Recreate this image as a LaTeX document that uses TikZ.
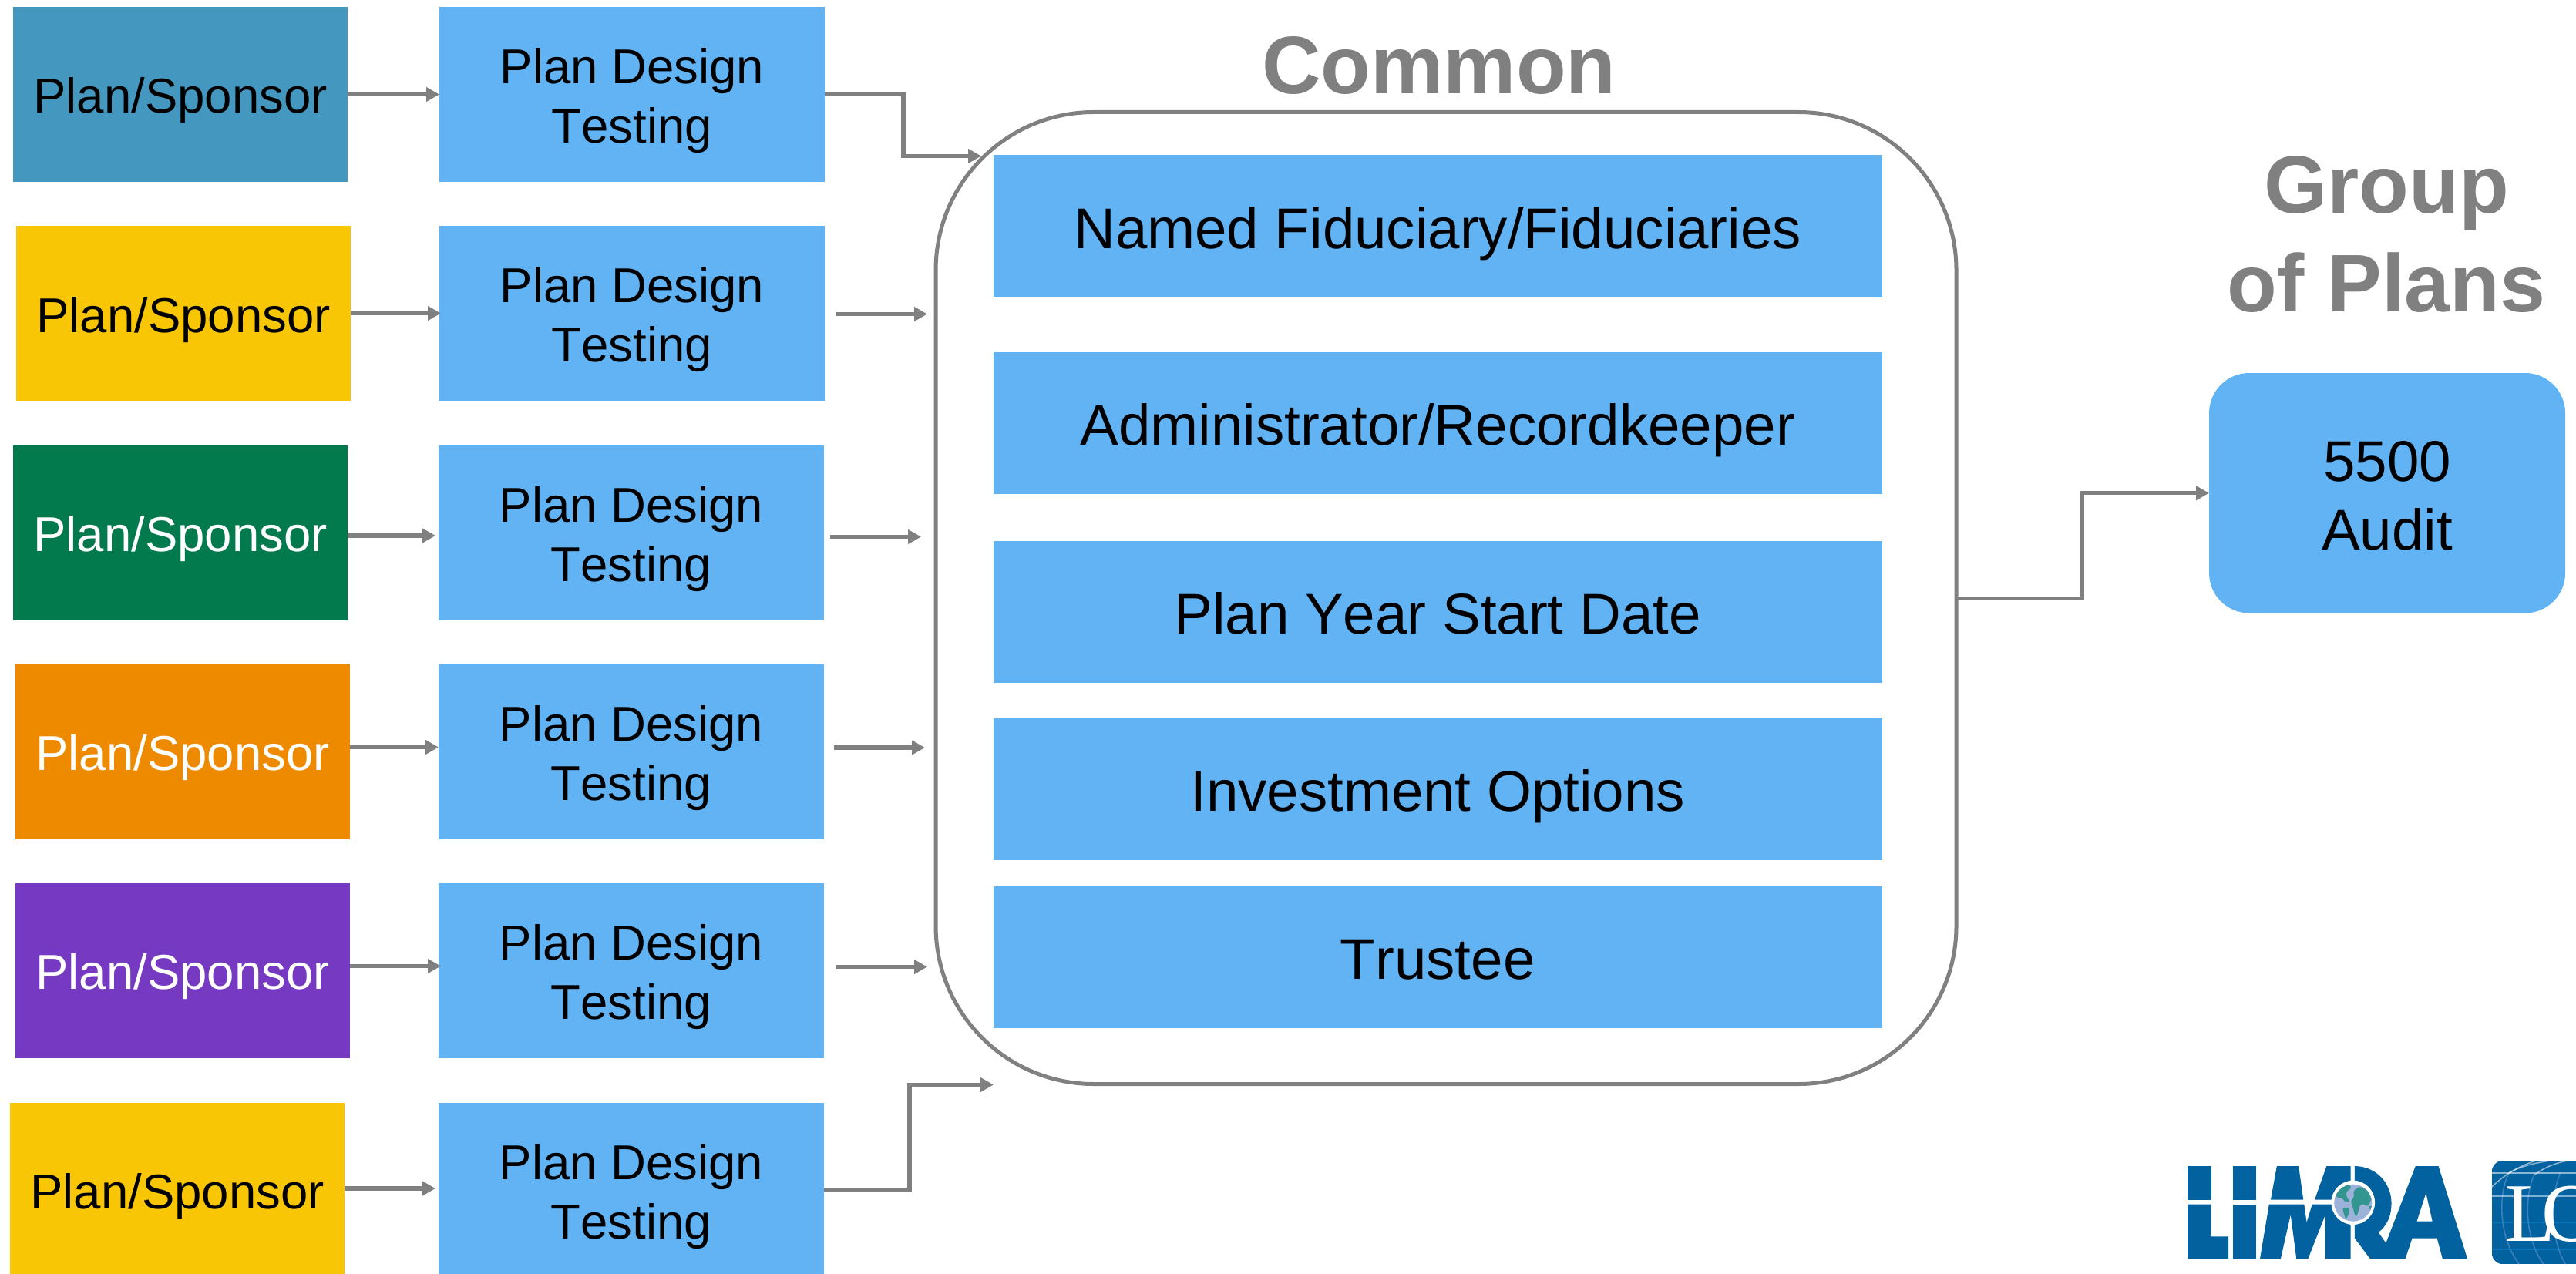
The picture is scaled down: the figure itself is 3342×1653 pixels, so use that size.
\documentclass[tikz,border=0pt]{standalone}
\usepackage{fontspec}
\setmainfont[Kerning=Off]{Liberation Sans}
\newfontfamily\logoserif{Liberation Serif}
\usetikzlibrary{arrows.meta}
\definecolor{planblue}{HTML}{61B3F4}
\definecolor{teal1}{HTML}{4497BF}
\definecolor{sunyellow}{HTML}{F8C605}
\definecolor{leafgreen}{HTML}{027A4E}
\definecolor{amber}{HTML}{EE8A00}
\definecolor{violet1}{HTML}{7639C2}
\definecolor{linegray}{HTML}{808080}
\definecolor{logoblue}{HTML}{02619F}
\definecolor{globeblue}{HTML}{9DB2D9}
\definecolor{globeland}{HTML}{33958F}
\newcommand{\fsmall}{\fontsize{63.5pt}{77pt}\selectfont}
\newcommand{\fmid}{\fontsize{74.5pt}{89.5pt}\selectfont}
\newcommand{\ftitle}{\fontsize{106pt}{128pt}\selectfont\bfseries}
\newcommand{\twolines}[3]{\raisebox{0pt}[#3pt][0pt]{\begin{tabular}[b]{@{}c@{}}#1\\#2\end{tabular}}}
\tikzset{
  x=1pt,y=-1pt,
  box/.style={rectangle,inner sep=0pt,outer sep=0pt,draw=none,align=center},
  sponsor/.style={box,minimum width=434pt,minimum height=227pt,font=\fsmall,text height=49pt,text depth=0pt},
  plantest/.style={box,fill=planblue,minimum width=500pt,minimum height=227pt,font=\fsmall},
  common/.style={box,fill=planblue,minimum width=1153pt,minimum height=184pt,font=\fmid,text height=58pt,text depth=0pt},
  title/.style={inner sep=0pt,outer sep=0pt,text=linegray,font=\ftitle,anchor=base},
  conn/.style={draw=linegray,line width=5.5pt,-{Triangle[length=17pt,width=18pt]}},
  connthin/.style={draw=linegray,line width=5pt,-{Triangle[length=17pt,width=18pt]}},
}
\begin{document}
\begin{tikzpicture}
\useasboundingbox (0,0) rectangle (3342,1653);
% sponsors
\node[sponsor,fill=teal1,text=black] (s1) at (234,122.5) {Plan/Sponsor};
\node[sponsor,fill=sunyellow,text=black] (s2) at (238,406.5) {Plan/Sponsor};
\node[sponsor,fill=leafgreen,text=white] (s3) at (234,691) {Plan/Sponsor};
\node[sponsor,fill=amber,text=white] (s4) at (237,975) {Plan/Sponsor};
\node[sponsor,fill=violet1,text=white] (s5) at (237,1259) {Plan/Sponsor};
\node[sponsor,fill=sunyellow,text=black] (s6) at (230,1544) {Plan/Sponsor};
% plan design testing
\node[plantest] (p1) at (820,122.5) {\twolines{Plan Design}{Testing}{126}};
\node[plantest] (p2) at (820,406.5) {\twolines{Plan Design}{Testing}{126}};
\node[plantest] (p3) at (819,691) {\twolines{Plan Design}{Testing}{126}};
\node[plantest] (p4) at (819,975) {\twolines{Plan Design}{Testing}{126}};
\node[plantest] (p5) at (819,1259) {\twolines{Plan Design}{Testing}{126}};
\node[plantest] (p6) at (819,1544) {\twolines{Plan Design}{Testing}{126}};
% common container
\node[box,draw=linegray,line width=5pt,rounded corners=205pt,minimum width=1324pt,minimum height=1261pt] (big) at (1876,776) {};
\node[common] (c1) at (1865.2,293.5) {Named Fiduciary/Fiduciaries};
\node[common] (c2) at (1865.2,548.5) {Administrator/Recordkeeper};
\node[common] (c3) at (1865.2,793.5) {Plan Year Start Date};
\node[common] (c4) at (1865.2,1023.5) {Investment Options};
\node[common] (c5) at (1865.2,1241.5) {Trustee};
% titles
\node[title] (tcommon) at (1867,121.5) {Common};
\node[title] (tgroup) at (3096,404) {\begin{tabular}[b]{@{}c@{}}Group\\of Plans\end{tabular}};
% audit
\node[box,fill=planblue,rounded corners=52pt,minimum width=462pt,minimum height=311.5pt,font=\fmid] (audit) at (3097,639.75) {\twolines{5500}{Audit}{148}};
% named ends of connectors
\coordinate (e1) at (570,122.5);
\coordinate (e2) at (572,406.5);
\coordinate (e3) at (565,695);
\coordinate (e4) at (569,969.5);
\coordinate (e5) at (572,1253.5);
\coordinate (e6) at (565,1542);
\coordinate (m1) at (1172,202.5);
\coordinate (t1) at (1273,202.5);
\coordinate (a2) at (1084,407.5);
\coordinate (b2) at (1203,407.5);
\coordinate (a3) at (1077,696.5);
\coordinate (b3) at (1195,696.5);
\coordinate (a4) at (1082,970);
\coordinate (b4) at (1200,970);
\coordinate (a5) at (1084,1254.5);
\coordinate (b5) at (1203,1254.5);
\coordinate (m6) at (1180,1407.5);
\coordinate (t6) at (1289,1407.5);
\coordinate (m7) at (2701,639.75);
% connectors
\draw[conn] (s1.east) -- (e1);
\draw[conn] (s2.east) -- (e2);
\draw[conn] (s3.east |- e3) -- (e3);
\draw[conn] (s4.east |- e4) -- (e4);
\draw[conn] (s5.east |- e5) -- (e5);
\draw[conn] (s6.east |- e6) -- (e6);
\draw[conn] (p1.east) -| (m1) -- (t1);
\draw[conn] (a2) -- (b2);
\draw[conn] (a3) -- (b3);
\draw[conn] (a4) -- (b4);
\draw[conn] (a5) -- (b5);
\draw[conn] (p6.east) -| (m6) -- (t6);
\draw[connthin] (big.east) -| (m7) -- (audit.west);
% LIMRA logo (coordinates from a 0.3584 x 0.3333 grid)
\begin{scope}[shift={(2780,1450)},x=0.3584pt,y=-0.3333pt]
  \fill[logoblue] (162,189) rectangle (247,320);
  \fill[logoblue] (162,338) -- (247,338) -- (247,463) -- (310,463) -- (310,550) -- (162,550) -- cycle;
  \fill[logoblue] (325,189) rectangle (409,320);
  \fill[logoblue] (325,338) rectangle (409,550);
  \fill[logoblue] (485,189) -- (564,189) -- (581,320) -- (463,320) -- cycle;
  \fill[logoblue] (665,189) -- (752,189) -- (752,320) -- (622,320) -- cycle;
  \fill[logoblue] (457,338) -- (584,338) -- (593,408) -- (613,338) -- (752,338) -- (752,550) -- (660,550) -- (660,380) -- (598,550) -- (556,550) -- (535,378) -- (499,550) -- (424,550) -- cycle;
  \fill[logoblue] (767,189) .. controls (845,190) and (900,255) .. (900,335) .. controls (900,380) and (885,420) .. (853,447) -- (880,489) -- (987,189) -- (1070,189) -- (1175,550) -- (1085,550) -- (1065,470) -- (975,470) -- (950,550) -- (823,550) -- (767,470) -- cycle;
  \fill[white] (1025,295) -- (1048,404) -- (992,404) -- cycle;
  \fill[white] (761,331) ellipse [x radius=79,y radius=86];
  \fill[globeblue] (761,332) ellipse [x radius=68.5,y radius=72];
  \begin{scope}
    \clip (761,332) ellipse [x radius=68.5,y radius=72];
    \fill[globeland,rounded corners=3pt] (698,296) -- (720,268) -- (750,262) -- (755,275) -- (735,290) -- (738,310) -- (750,328) -- (735,332) -- (720,312) -- (700,312) -- cycle;
    \fill[globeland,rounded corners=3pt] (722,350) -- (750,352) -- (745,375) -- (735,398) -- (728,375) -- cycle;
    \fill[globeland,rounded corners=3pt] (762,285) -- (785,268) -- (815,285) -- (828,320) -- (812,348) -- (800,335) -- (785,340) -- (778,375) -- (770,388) -- (760,350) -- (752,325) -- (765,310) -- cycle;
    \fill[globeland] (818,345) -- (832,345) -- (825,365) -- cycle;
  \end{scope}
\end{scope}
% second logo, cut by the right edge
\begin{scope}[shift={(3200,1490)},x=0.3333pt,y=-0.3333pt]
  \begin{scope}
    \clip[rounded corners=15pt] (98,47) rectangle (700,451);
    \fill[logoblue] (98,47) rectangle (700,451);
    \draw[color=cyan!50!blue!60!white,line width=1.6pt,opacity=.55] (165,95) .. controls (125,170) and (120,340) .. (205,451);
    \draw[color=cyan!50!blue!60!white,line width=1.6pt,opacity=.55] (262,105) .. controls (225,190) and (225,350) .. (300,451);
    \draw[color=cyan!50!blue!60!white,line width=1.6pt,opacity=.55] (365,95) .. controls (325,190) and (325,350) .. (385,451);
    \draw[color=white,line width=1.5pt,opacity=.55] (98,150) .. controls (150,100) and (210,65) .. (275,47);
    \draw[color=white,line width=1.5pt,opacity=.55] (165,95) .. controls (210,70) and (270,55) .. (335,47);
    \draw[color=white,line width=1.5pt,opacity=.55] (262,105) .. controls (300,75) and (350,55) .. (400,47);
    \draw[color=white,line width=1.7pt,opacity=.55] (98,95) -- (700,95);
    \draw[color=white,line width=1.7pt,opacity=.5] (98,185) -- (700,185);
    \draw[color=cyan!70!blue,line width=1.7pt,opacity=.5] (98,288) -- (700,288);
    \draw[color=cyan!70!blue,line width=1.7pt,opacity=.5] (98,392) -- (700,392);
  \end{scope}
  \node[inner sep=0pt,outer sep=0pt,anchor=base west,text=white,font=\fontsize{108pt}{120pt}\selectfont\logoserif] (lo) at (148,360) {L\kern-18pt O};
\end{scope}
\end{tikzpicture}
\end{document}
